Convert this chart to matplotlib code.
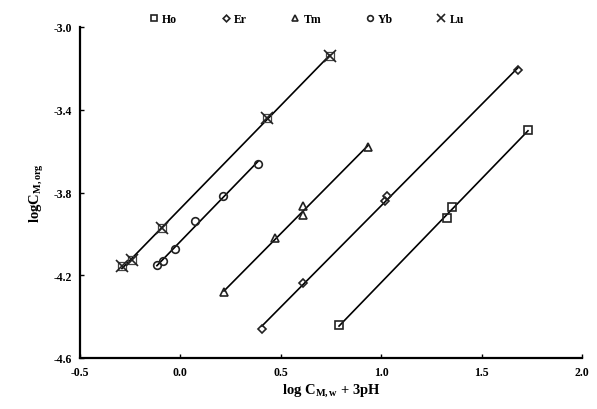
import numpy as np
import matplotlib
matplotlib.use("Agg")
import matplotlib.pyplot as plt

plt.rcParams['font.family'] = ['Liberation Serif', 'DejaVu Serif']
plt.rcParams['font.weight'] = 'bold'
plt.rcParams['axes.unicode_minus'] = False
plt.rcParams['mathtext.fontset'] = 'custom'
plt.rcParams['mathtext.rm'] = 'Liberation Serif:bold'
plt.rcParams['mathtext.bf'] = 'Liberation Serif:bold'
plt.rcParams['mathtext.it'] = 'Liberation Serif:italic:bold'

ho_x = [0.79, 1.328, 1.353, 1.731]
ho_y = [-4.441, -3.925, -3.872, -3.496]
er_x = [0.406, 0.611, 1.019, 1.029, 1.681]
er_y = [-4.460, -4.239, -3.843, -3.819, -3.207]
tm_x = [0.217, 0.471, 0.611, 0.611, 0.934]
tm_y = [-4.282, -4.022, -3.911, -3.863, -3.578]
yb_x = [-0.117, -0.087, -0.027, 0.073, 0.212, 0.386]
yb_y = [-4.152, -4.133, -4.075, -3.940, -3.819, -3.660]
lu_x = [-0.291, -0.241, -0.092, 0.431, 0.745]
lu_y = [-4.157, -4.128, -3.973, -3.439, -3.140]

series = [
    ("Ho", ho_x, ho_y, 's'),
    ("Er", er_x, er_y, 'D'),
    ("Tm", tm_x, tm_y, '^'),
    ("Yb", yb_x, yb_y, 'o'),
    ("Lu", lu_x, lu_y, 'x'),
]

xticks = [-0.5, 0.0, 0.5, 1.0, 1.5, 2.0]
yticks = [-3.0, -3.4, -3.8, -4.2, -4.6]

fig = plt.figure(figsize=(5.97, 4.10), dpi=100)
ax = fig.add_axes([80/597, 1-359/410, (582-80)/597, (359-28)/410])

sizes = {'s': 6, 'D': 4.5, '^': 6, 'o': 5.5, 'x': 7}
for name, xs, ys, m in series:
    xs = np.array(xs); ys = np.array(ys)
    k, b = np.polyfit(xs, ys, 1)
    xl = np.array([xs.min(), xs.max()])
    ax.plot(xl, k*xl + b, color='black', lw=1.2, zorder=2)
    if m == 'x':
        ax.plot(xs, ys, linestyle='none', marker='s', ms=6, mfc='none',
                mec='#444444', mew=0.9, zorder=3, label='_nolegend_')
        ax.plot(xs, ys, linestyle='none', marker='x', ms=8, color='#222222',
                mew=1.2, zorder=3, label=name)
    else:
        ax.plot(xs, ys, linestyle='none', marker=m, ms=sizes[m], mfc='none',
                mec='#222222', mew=1.2, zorder=3, label=name)

ax.set_xlim(-0.5, 2.0)
ax.set_ylim(-4.6, -3.0)
ax.set_xticks(xticks)
ax.set_yticks(yticks)
ax.set_xticklabels([f"{t:.1f}" for t in xticks])
ax.set_yticklabels([f"{t:.1f}" for t in yticks])
ax.tick_params(direction='in', length=3, width=1, labelsize=8.5, pad=6)
for lab in ax.get_xticklabels() + ax.get_yticklabels():
    lab.set_fontweight('bold')
ax.spines['top'].set_visible(False)
ax.spines['right'].set_visible(False)
ax.spines['left'].set_linewidth(1.6)
ax.spines['bottom'].set_linewidth(1.6)

ax.set_xlabel(r"log C$_{\mathrm{M,w}}$ + 3pH", fontsize=10.5, fontweight='bold', labelpad=2)
ax.set_ylabel(r"logC$_{\mathrm{M,org}}$", fontsize=10.5, fontweight='bold', labelpad=5)

handles, labels = ax.get_legend_handles_labels()
leg = fig.legend(handles, labels, loc='center', bbox_to_anchor=(306/597, 1-20/410),
                 ncol=5, frameon=False, fontsize=8.5, handletextpad=0.2,
                 columnspacing=3.6, handlelength=1.0, markerscale=0.75)

fig.savefig("out.png", dpi=100, facecolor='white')
